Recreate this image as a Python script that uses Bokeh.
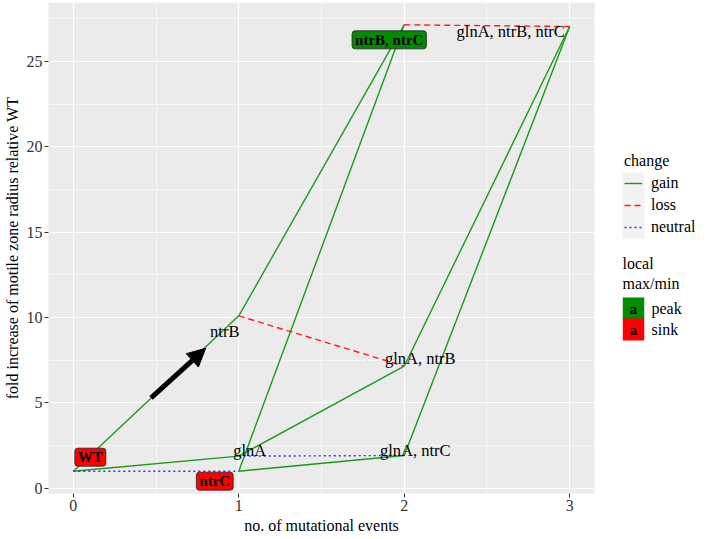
from bokeh.plotting import figure
from bokeh.layouts import row
from bokeh.models import (ColumnDataSource, Range1d, FixedTicker, Legend, LegendItem,
                          Label, Arrow, NormalHead, BoxAnnotation)
from bokeh.core.properties import value
from bokeh.embed import file_html
from bokeh.resources import INLINE

# ---------------- data ----------------
genotypes = ["WT", "glnA", "ntrB", "ntrC", "glnA, ntrB", "glnA, ntrC", "ntrB, ntrC", "glnA, ntrB, ntrC"]
events = [0, 1, 1, 1, 2, 2, 2, 3]
fold_increase = [1.0, 1.88, 10.1, 1.0, 7.15, 1.92, 27.15, 27.05]
local_extremum = ["sink", "", "", "sink", "", "", "peak", ""]

edge_from = ["WT", "WT", "WT", "glnA", "glnA", "ntrB", "ntrB", "ntrC", "ntrC",
             "glnA, ntrB", "glnA, ntrC", "ntrB, ntrC"]
edge_to = ["ntrB", "glnA", "ntrC", "glnA, ntrB", "glnA, ntrC", "glnA, ntrB", "ntrB, ntrC",
           "ntrB, ntrC", "glnA, ntrC", "glnA, ntrB, ntrC", "glnA, ntrB, ntrC", "glnA, ntrB, ntrC"]
edge_change = ["gain", "gain", "neutral", "gain", "neutral", "loss", "gain",
               "gain", "gain", "gain", "gain", "loss"]

arrow_start = (0.47, 5.3)
arrow_end = (0.8, 8.2)

x_ticks = [0, 1, 2, 3]
y_ticks = [0, 5, 10, 15, 20, 25]

change_levels = ["gain", "loss", "neutral"]
extremum_levels = ["peak", "sink"]

# ---------------- styles ----------------
SERIF = "Liberation Serif"
change_color = {"gain": "#1c9a1c", "loss": "#ff1a1a", "neutral": "#3333ff"}
change_dash = {"gain": "solid", "loss": "6 4", "neutral": "2 3"}
extremum_fill = {"peak": "#008B00", "sink": "#FF0000"}
# label offsets in screen pixels (ggrepel placement)
label_dx = [17, 11, -14, -24, 16, 11, -15, -59]
label_dy = [-14, -6, 16, 10, -8, -5, 15, 5]

# ---------------- main figure ----------------
xpad = 0.05 * (max(events) - min(events))
ypad = 0.05 * (max(fold_increase) - min(fold_increase))
p = figure(frame_width=546, frame_height=491,
           min_border_left=44, min_border_right=6, min_border_top=2, min_border_bottom=40,
           x_range=Range1d(min(events) - xpad, max(events) + xpad),
           y_range=Range1d(min(fold_increase) - ypad, max(fold_increase) + ypad),
           output_backend="svg", toolbar_location=None)
p.background_fill_color = "#EBEBEB"
p.border_fill_color = "white"
p.outline_line_color = None

minor_x = [(a + b) / 2 for a, b in zip(x_ticks[:-1], x_ticks[1:])]
minor_y = [(a + b) / 2 for a, b in zip(y_ticks, y_ticks[1:] + [y_ticks[-1] + 5])]
p.xaxis.ticker = FixedTicker(ticks=x_ticks, minor_ticks=minor_x)
p.yaxis.ticker = FixedTicker(ticks=y_ticks, minor_ticks=minor_y)
for g in (p.xgrid, p.ygrid):
    g.grid_line_color = "white"
    g.grid_line_width = 1.2
    g.minor_grid_line_color = "white"
    g.minor_grid_line_width = 0.6
for ax in (p.xaxis, p.yaxis):
    ax.axis_line_color = None
    ax.major_tick_line_color = "#333333"
    ax.major_tick_out = 4
    ax.major_tick_in = 0
    ax.minor_tick_line_color = None
    ax.major_label_text_font = SERIF
    ax.major_label_text_font_size = "16px"
    ax.major_label_text_color = "#333333"
    ax.major_label_standoff = 2
    ax.axis_label_text_font = SERIF
    ax.axis_label_text_font_size = "16px"
    ax.axis_label_text_font_style = "normal"
    ax.axis_label_text_color = "black"
    ax.axis_label_standoff = 3
p.xaxis.axis_label = "no. of mutational events"
p.yaxis.axis_label = "fold increase of motile zone radius relative WT"

# ---------------- edges ----------------
pos = {g: (x, y) for g, x, y in zip(genotypes, events, fold_increase)}
for lvl in change_levels:
    idx = [i for i, c in enumerate(edge_change) if c == lvl]
    src = ColumnDataSource(dict(
        x0=[pos[edge_from[i]][0] for i in idx], y0=[pos[edge_from[i]][1] for i in idx],
        x1=[pos[edge_to[i]][0] for i in idx], y1=[pos[edge_to[i]][1] for i in idx]))
    p.segment(x0="x0", y0="y0", x1="x1", y1="y1", source=src,
              line_color=change_color[lvl], line_width=1.4, line_dash=change_dash[lvl])

# ---------------- arrow ----------------
p.add_layout(Arrow(x_start=arrow_start[0], y_start=arrow_start[1],
                   x_end=arrow_end[0], y_end=arrow_end[1],
                   line_width=5, line_color="black",
                   end=NormalHead(size=18, fill_color="black", line_color="black", line_width=1)))

# ---------------- labels ----------------
plain = [i for i, e in enumerate(local_extremum) if e == ""]
boxed = [i for i, e in enumerate(local_extremum) if e != ""]
plain_src = ColumnDataSource(dict(
    x=[events[i] for i in plain], y=[fold_increase[i] for i in plain],
    text=[genotypes[i] for i in plain],
    dx=[label_dx[i] for i in plain], dy=[label_dy[i] for i in plain]))
p.text(x="x", y="y", text="text", x_offset="dx", y_offset="dy", source=plain_src,
       text_align="center", text_baseline="alphabetic", text_font=value(SERIF),
       text_font_size="16.5px", text_color="black")
box_src = ColumnDataSource(dict(
    x=[events[i] for i in boxed], y=[fold_increase[i] for i in boxed],
    text=[genotypes[i] for i in boxed],
    dx=[label_dx[i] for i in boxed], dy=[label_dy[i] for i in boxed],
    fill=[extremum_fill[local_extremum[i]] for i in boxed]))
p.text(x="x", y="y", text="text", x_offset="dx", y_offset="dy", source=box_src,
       text_align="center", text_baseline="middle", text_font=value(SERIF),
       text_font_size="15px", text_font_style="bold", text_color="black",
       background_fill_color="fill", border_line_color="#222222", border_line_width=0.8,
       padding=(3, 1), border_radius=3)

# ---------------- legend panel ----------------
lf = figure(width=96, height=523, x_range=Range1d(0, 1), y_range=Range1d(0, 1),
            min_border=0, x_axis_location=None, y_axis_location=None,
            output_backend="svg", toolbar_location=None)
lf.grid.visible = False
lf.outline_line_color = None
lf.background_fill_color = "white"
lf.border_fill_color = "white"

key_x = 24
# grey key background (ggplot legend.key)
lf.add_layout(BoxAnnotation(left=key_x - 2, right=key_x + 20, bottom=242, top=308,
                            left_units="screen", right_units="screen",
                            bottom_units="screen", top_units="screen",
                            fill_color="#F2F2F2", fill_alpha=1, line_color=None))

nan = float("nan")
legend_renderers = {}
for lvl in change_levels:
    legend_renderers[lvl] = lf.segment(x0=[nan], y0=[nan], x1=[nan], y1=[nan],
                                       line_color=change_color[lvl], line_width=1.4,
                                       line_dash=change_dash[lvl])

leg = Legend(items=[LegendItem(label=lvl, renderers=[legend_renderers[lvl]]) for lvl in change_levels],
             title="change", location=(key_x, 244))
leg.title_text_font = SERIF
leg.title_text_font_size = "16px"
leg.title_text_font_style = "normal"
leg.title_text_color = "black"
leg.label_text_font = SERIF
leg.label_text_font_size = "16px"
leg.label_text_color = "black"
leg.glyph_width = 18
leg.glyph_height = 18
leg.label_height = 18
leg.label_standoff = 9
leg.spacing = 4
leg.padding = 0
leg.margin = 0
leg.title_standoff = 4
leg.background_fill_alpha = 0
leg.border_line_color = None
lf.add_layout(leg)

title_lines = ["local", "max/min"]
for k, t in enumerate(title_lines):
    lf.add_layout(Label(x=key_x - 2, y=217 - 20 * k, x_units="screen", y_units="screen", text=t,
                        text_font=SERIF, text_font_size="16px", text_color="black",
                        text_baseline="middle", text_align="left"))
for k, lvl in enumerate(extremum_levels):
    yy = 172 - 21 * k
    lf.add_layout(Label(x=key_x + 9, y=yy, x_units="screen", y_units="screen", text="a",
                        text_font=SERIF, text_font_size="15px", text_font_style="bold",
                        text_color="black", text_align="center", text_baseline="middle",
                        background_fill_color=extremum_fill[lvl], padding=(7, 3)))
    lf.add_layout(Label(x=key_x + 27, y=yy, x_units="screen", y_units="screen", text=lvl,
                        text_font=SERIF, text_font_size="16px", text_color="black",
                        text_align="left", text_baseline="middle"))

layout = row(p, lf)
open("out.html", "w").write(file_html(layout, INLINE))
